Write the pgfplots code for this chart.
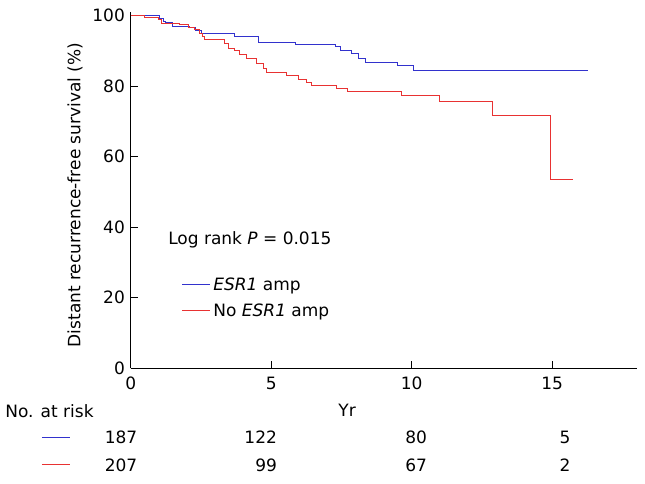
\documentclass[border=0pt]{standalone}
\usepackage{fontspec}
\setmainfont{DejaVu Sans}
\usepackage{pgfplots}
\pgfplotsset{compat=1.18}
\definecolor{kmblue}{RGB}{50,50,205}
\definecolor{kmred}{RGB}{232,50,50}
\begin{document}
\fontsize{17bp}{20bp}\selectfont
\begin{tikzpicture}[font=\fontsize{17bp}{20bp}\selectfont]
\useasboundingbox (-130.7bp,-116bp) rectangle (514.3bp,368bp);
\begin{axis}[
  at={(0,0)}, anchor=south west,
  scale only axis, width=505.8bp, height=356bp,
  xmin=0, xmax=18, ymin=0, ymax=101,
  axis x line*=bottom, axis y line*=left,
  axis line style={line width=0.9bp},
  xtick={0,5,10,15}, ytick={0,20,40,60,80,100},
  tick align=inside, major tick length=7bp,
  tick style={line width=0.8bp, black},
  /pgf/number format/assume math mode=true,
  tick label style={font=\fontsize{17bp}{20bp}\selectfont},
  xticklabel style={yshift=-3bp},
  ylabel={Distant recurrence-free survival (\%)},
  ylabel style={at={(axis description cs:-0.110,0.486)}, anchor=center, font=\fontsize{17bp}{20bp}\selectfont},
  xlabel={Yr},
  xlabel style={at={(axis description cs:0.428,-0.118)}, anchor=center, font=\fontsize{17bp}{20bp}\selectfont},
  clip=false,
  legend image code/.code={\draw[#1] (0bp,0.08em) -- (28bp,0.08em);},
  legend style={draw=none, fill=none, inner sep=0pt, row sep=6bp,
    at={(axis description cs:0.101,0.195)}, anchor=west,
    nodes={inner sep=2.5bp, font=\fontsize{17bp}{20bp}\selectfont}},
  legend cell align=left,
]
\addplot[const plot, kmblue, line width=0.9bp] coordinates {
(0,100) (1.03,99.3) (1.15,98.4) (1.25,97.9) (1.5,96.9) (2.1,96.5) (2.3,95.7)
(2.51,94.8) (3.70,94.1) (4.53,92.5) (5.85,91.8) (7.27,91.2) (7.45,90.2)
(7.86,89.3) (8.10,87.9) (8.34,86.8) (9.49,85.8) (10.06,84.5) (16.29,84.5)
};
\addlegendentry{\textit{ESR1} amp}
\addplot[const plot, kmred, line width=0.9bp] coordinates {
(0,100) (0.5,99.5) (0.97,98.8) (1.09,97.7) (1.74,97.4) (2.04,96.6) (2.27,96.0)
(2.46,95.0) (2.55,94.1) (2.63,93.1) (3.35,92.2) (3.47,90.8) (3.70,90.0)
(3.88,88.9) (4.12,87.9) (4.47,86.5) (4.71,85.6) (4.74,84.9) (4.84,83.8)
(5.55,82.9) (5.97,82.0) (6.26,81.0) (6.44,80.1) (7.33,79.3) (7.71,78.4)
(9.64,77.3) (11.0,75.7) (12.88,71.6) (14.92,53.6) (15.75,53.6)
};
\addlegendentry{No \textit{ESR1} amp}
\node[anchor=west, inner sep=0pt] at (axis cs:1.33,36.3) {Log rank \textit{P} = 0.015};
% number at risk table
\node[anchor=west, inner sep=0pt] at (axis cs:-4.47,-12.2) {No. at risk};
\draw[kmblue, line width=0.9bp] (axis cs:-3.16,-19.6) -- (axis cs:-2.16,-19.6);
\draw[kmred, line width=0.9bp] (axis cs:-3.16,-27.5) -- (axis cs:-2.16,-27.5);
\node[anchor=east, inner sep=0pt] at (axis cs:0.24,-19.6) {187};
\node[anchor=east, inner sep=0pt] at (axis cs:5.21,-19.6) {122};
\node[anchor=east, inner sep=0pt] at (axis cs:10.55,-19.6) {80};
\node[anchor=east, inner sep=0pt] at (axis cs:15.66,-19.6) {5};
\node[anchor=east, inner sep=0pt] at (axis cs:0.24,-27.5) {207};
\node[anchor=east, inner sep=0pt] at (axis cs:5.21,-27.5) {99};
\node[anchor=east, inner sep=0pt] at (axis cs:10.55,-27.5) {67};
\node[anchor=east, inner sep=0pt] at (axis cs:15.66,-27.5) {2};
\end{axis}
\end{tikzpicture}
\end{document}
